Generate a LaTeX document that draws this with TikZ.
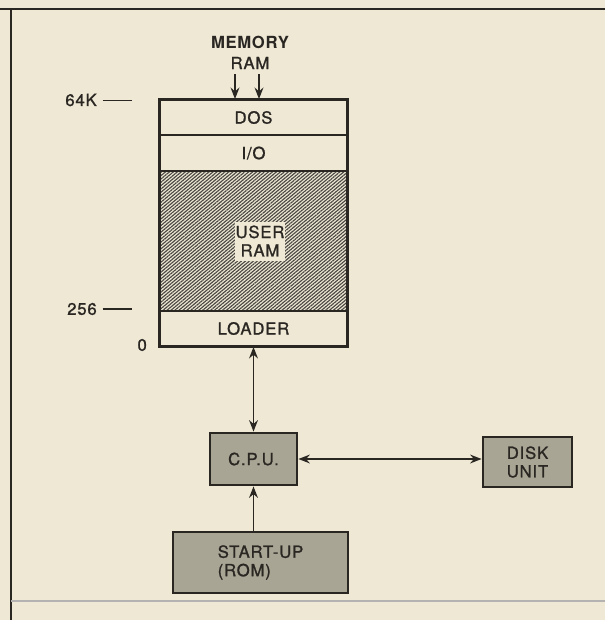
\documentclass[tikz,border=0pt]{standalone}
\usepackage{fontspec}
\setmainfont{TeX Gyre Heros}[FakeBold=1.2, LetterSpace=5]
\newfontfamily\headfont{TeX Gyre Heros}[LetterSpace=4]
\usepackage{tikz}
\usetikzlibrary{positioning, arrows.meta, calc, patterns.meta}

\definecolor{paper}{HTML}{EEE8D5}
\definecolor{boxgray}{HTML}{A8A595}
\definecolor{ink}{HTML}{2A2622}

\begin{document}
\begin{tikzpicture}[x=0.02cm, y=-0.02cm]
    \tikzset{
        mem cell/.style={
                draw=ink, line width=1.1pt, fill=paper, minimum width=3.74cm,
                inner sep=0pt, font=\fontsize{9.5}{10.5}\selectfont, text=ink
            },
        unit box/.style={
                draw=ink, line width=1.6pt, fill=boxgray, inner sep=0pt,
                font=\fontsize{9.5}{10.5}\selectfont, text=ink, align=left
            },
        side label/.style={
                font=\fontsize{9.5}{10.5}\selectfont, text=ink, anchor=east
            },
        link/.style={
                draw=ink, line width=1pt, {Stealth[length=6.5pt, width=5pt]}-{Stealth[length=6.5pt, width=5pt]}
            },
        feed/.style={
                draw=ink, line width=1pt, -{Stealth[length=6.5pt, width=5pt]}
            }
    }

    % paper and frame
    \useasboundingbox (0,0) rectangle (605,620);
    \fill[paper] (0,0) rectangle (605,620);
    \draw[ink, line width=1.6pt] (0,9) -- (605,9);
    \draw[ink, line width=1.3pt] (11,9) -- (11,620);
    \draw[ink!35, line width=0.6pt] (11,601) -- (605,601);

    % Memory map
    \node[font=\headfont\fontsize{9.5}{10.5}\selectfont\bfseries, text=ink] (memory) at (250,42) {MEMORY};
    \node[font=\fontsize{9.5}{10.5}\selectfont, text=ink] (ram) at (250,63) {RAM};
    \node[mem cell, minimum height=0.7cm] (dos) at (253.5,117.5) {DOS};
    \node[mem cell, minimum height=0.72cm] (io) at (253.5,153) {I/O};
    \node[mem cell, minimum height=2.8cm,
        pattern={Lines[angle=40, distance=1.45pt, line width=0.65pt]}, pattern color=ink!85] (user) at (253.5,241) {};
    \node[fill=paper, font=\fontsize{9.5}{10.5}\selectfont, text=ink, align=center,
        minimum width=1.0cm, minimum height=0.78cm, inner sep=0pt] (userram) at (260,241) {USER\\RAM};
    \node[mem cell, minimum height=0.7cm] (loader) at (253.5,328.5) {LOADER};
    \draw[ink, line width=1.7pt] (dos.north west) rectangle (loader.south east);

    % RAM arrows
    \coordinate (ramA) at (235,74);
    \coordinate (ramB) at (259,74);
    \draw[feed] (ramA) -- (ramA |- dos.north);
    \draw[feed] (ramB) -- (ramB |- dos.north);

    % Address marks
    \node[side label] (top64) at (138,100) {64K\hspace{0.35em}\rule[0.3em]{1.75em}{0.8pt}};
    \node[side label] (mark256) at (138,309) {256\hspace{0.35em}\rule[0.3em]{1.75em}{0.8pt}};
    \node[side label] (zero) at (153,345) {0};

    % Units
    \node[unit box, minimum width=1.74cm, minimum height=1.04cm] (cpu) at (253.5,459) {C.P.U.};
    \node[unit box, minimum width=1.78cm, minimum height=1.0cm] (disk) at (527.5,462) {DISK\\UNIT};
    \node[unit box, minimum width=3.5cm, minimum height=1.22cm] (startup) at (260.5,562.5) {START-UP\\(ROM)};

    % Connections
    \draw[link] (loader.south) -- (cpu.north);
    \draw[link] (cpu.east) -- (cpu.east -| disk.west);
    \draw[feed] (cpu.south |- startup.north) -- (cpu.south);
\end{tikzpicture}
\end{document}
